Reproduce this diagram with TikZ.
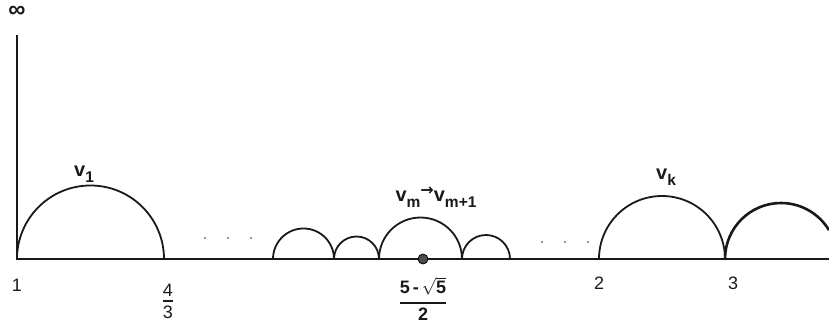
\documentclass[tikz,border=0pt]{standalone}
\usepackage{fontspec}
\setmainfont{Liberation Sans}
\newfontfamily\arrowfont{DejaVu Sans}
\usetikzlibrary{positioning,calc}
\newcommand{\lowsub}[1]{\raisebox{-6pt}{\fontsize{15.5}{16}\selectfont #1}}
\newcommand{\maps}{\raisebox{6pt}{\arrowfont\bfseries\fontsize{16}{16}\selectfont →}}

\begin{document}
\begin{tikzpicture}[x=1pt,y=1pt,line width=1.8pt,color=black!90,
  num/.style={inner sep=0pt,font=\fontsize{18}{20}\selectfont},
  bnum/.style={num,font=\fontsize{18}{20}\selectfont\bfseries},
  vlab/.style={inner sep=0pt,anchor=south,font=\fontsize{20}{21}\selectfont\bfseries},
  gapdot/.style={circle,fill=black!55,draw=none,inner sep=0pt,minimum size=2.4pt}]
  \useasboundingbox (0,0) rectangle (829,325);

  % Axes
  \coordinate (one) at (17,66);
  \coordinate (top) at (17,290);
  \coordinate (right) at (829,66);
  \draw (top) -- (one) -- (right);
  \node[num,font=\fontsize{24}{24}\selectfont\bfseries] (inf) at (17,313) {∞};

  % Points on the line
  \coordinate (fourthirds) at (164,66);
  \coordinate (a0) at (273,66);
  \coordinate (a1) at (334,66);
  \coordinate (a2) at (379,66);
  \coordinate (a3) at (462,66);
  \coordinate (a4) at (510,66);
  \coordinate (two) at (599,66);
  \coordinate (three) at (725,66);
  \node[circle,fill=black!70,draw=black,line width=0.8pt,inner sep=0pt,minimum size=10pt] (gold) at (423,66) {};

  % Arcs
  \draw (one) arc[start angle=180,end angle=0,radius=73.5];
  \draw (a0) arc[start angle=180,end angle=0,radius=30.5];
  \draw (a1) arc[start angle=180,end angle=0,radius=22.5];
  \draw (a2) arc[start angle=180,end angle=0,radius=41.5];
  \draw (a3) arc[start angle=180,end angle=0,radius=24];
  \draw (two) arc[start angle=180,end angle=0,radius=63];
  \draw[line width=2.6pt] (three) arc[start angle=180,end angle=31,radius=56];

  % Gaps
  \foreach \x in {205,228,251} \node[gapdot] at (\x,87) {};
  \foreach \x in {542,565,588} \node[gapdot] at (\x,83) {};

  % Labels on the line
  \node[num,below=19pt of one] (l1) {1};
  \node[num,below=17pt of two] (l2) {2};
  \node[num,below=17pt of three,xshift=8pt] (l3) {3};

  \node[num] (n43) at (168,35) {4};
  \node[num] (d43) at (168,13) {3};
  \draw[line width=1.3pt] ([xshift=-5pt]$(n43)!0.5!(d43)$) -- ([xshift=5pt]$(n43)!0.5!(d43)$);

  \node[bnum] (ngold) at (423,39) {5\,-\,$\sqrt{\mbox{\bfseries 5}}$};
  \node[bnum] (dgold) at (423,11) {2};
  \draw[line width=1.6pt] ([xshift=-23pt,yshift=-3pt]$(ngold)!0.5!(dgold)$) -- ([xshift=23pt,yshift=-3pt]$(ngold)!0.5!(dgold)$);

  % Labels on the arcs
  \node[vlab] (v1) at (84,142) {v\lowsub{1}};
  \node[vlab] (vm) at (436,117) {v\lowsub{m}\maps v\lowsub{m+1}};
  \node[vlab] (vk) at (666,139) {v\lowsub{k}};
\end{tikzpicture}
\end{document}
